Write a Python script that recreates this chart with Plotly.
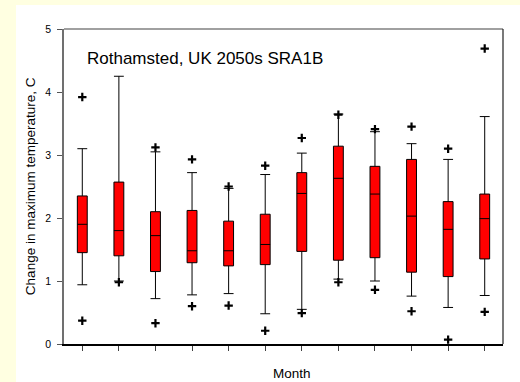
import plotly.graph_objects as go

# Monthly change in maximum temperature (C), Rothamsted UK, 2050s SRA1B
months = list(range(1, 13))
q1 = [1.45, 1.40, 1.15, 1.29, 1.24, 1.26, 1.47, 1.33, 1.37, 1.14, 1.07, 1.35]
median = [1.90, 1.80, 1.72, 1.48, 1.48, 1.58, 2.39, 2.63, 2.38, 2.03, 1.82, 1.99]
q3 = [2.35, 2.57, 2.10, 2.12, 1.95, 2.06, 2.72, 3.14, 2.82, 2.93, 2.26, 2.38]
lower_whisker = [0.94, 1.00, 0.72, 0.78, 0.80, 0.48, 0.55, 1.03, 1.00, 0.76, 0.58, 0.77]
upper_whisker = [3.10, 4.25, 3.05, 2.72, 2.47, 2.69, 3.03, 3.65, 3.37, 3.18, 2.93, 3.61]
low_outlier = [0.37, 0.98, 0.33, 0.60, 0.61, 0.21, 0.49, 0.98, 0.86, 0.52, 0.07, 0.51]
high_outlier = [3.92, None, 3.12, 2.93, 2.50, 2.83, 3.27, 3.64, 3.41, 3.45, 3.10, 4.69]
y_ticks = [0, 1, 2, 3, 4, 5]

title_text = "Rothamsted, UK 2050s SRA1B"
x_title = "Month"
y_title = "Change in maximum temperature, C"

fig = go.Figure()

fig.add_trace(go.Box(
    x=months,
    q1=q1,
    median=median,
    q3=q3,
    lowerfence=lower_whisker,
    upperfence=upper_whisker,
    width=0.27,
    whiskerwidth=1,
    fillcolor="#FF0000",
    line=dict(color="#000000", width=1),
    boxpoints=False,
    showlegend=False,
    hoverinfo="skip",
))

# Outliers beyond the whiskers
out_x = [m for m, v in zip(months, low_outlier) if v is not None] + \
        [m for m, v in zip(months, high_outlier) if v is not None]
out_y = [v for v in low_outlier if v is not None] + \
        [v for v in high_outlier if v is not None]
fig.add_trace(go.Scatter(
    x=out_x, y=out_y, mode="markers",
    marker=dict(symbol="cross-thin", size=6, color="#000000",
                line=dict(color="#000000", width=2.2)),
    showlegend=False, hoverinfo="skip",
))

# Pale yellow border strips (top and left) and the plot frame
yellow = "#FFFFE1"
shapes = [
    dict(type="rect", xref="paper", yref="paper",
         x0=-0.2, x1=1.2, y0=1.0762, y1=1.3,
         fillcolor=yellow, line=dict(width=0), layer="below"),
    dict(type="rect", xref="paper", yref="paper",
         x0=-0.2, x1=-0.1093, y0=-0.3, y1=1.3,
         fillcolor=yellow, line=dict(width=0), layer="below"),
    dict(type="line", xref="paper", yref="paper", x0=0, x1=1, y0=1, y1=1,
         line=dict(color="#808080", width=1.5)),
    dict(type="line", xref="paper", yref="paper", x0=1, x1=1, y0=0, y1=1,
         line=dict(color="#202020", width=1.2)),
]

fig.update_layout(
    width=520, height=382,
    margin=dict(l=64, r=17, t=29, b=38),
    paper_bgcolor="#FFFFFF",
    plot_bgcolor="#FFFFFF",
    font=dict(family="Liberation Sans, Arial, sans-serif", color="#000000"),
    shapes=shapes,
    annotations=[
        dict(text=title_text, xref="paper", yref="paper",
             x=0.048, y=0.905, xanchor="left", yanchor="middle",
             showarrow=False, font=dict(size=17)),
        dict(text=x_title, xref="paper", yref="paper",
             x=0.52, y=-0.095, xanchor="center", yanchor="middle",
             showarrow=False, font=dict(size=13.5)),
        dict(text=y_title, xref="paper", yref="paper",
             x=-0.076, y=0.5, xanchor="center", yanchor="middle",
             textangle=-90, showarrow=False, font=dict(size=13.5)),
    ],
    xaxis=dict(
        range=[0.5, 12.5], tickvals=months, showticklabels=False,
        ticks="outside", ticklen=5, tickcolor="#404040", tickwidth=1,
        showline=True, linecolor="#000000", linewidth=1.5,
        showgrid=False, zeroline=False, fixedrange=True,
    ),
    yaxis=dict(
        range=[0, 5], tickvals=y_ticks,
        ticks="outside", ticklen=5, tickcolor="#555555", tickwidth=1,
        showline=True, linecolor="#707070", linewidth=1.5,
        showgrid=False, zeroline=False, tickfont=dict(size=10.5),
        ticklabelstandoff=4, fixedrange=True,
    ),
)

fig.write_html("out.html")
